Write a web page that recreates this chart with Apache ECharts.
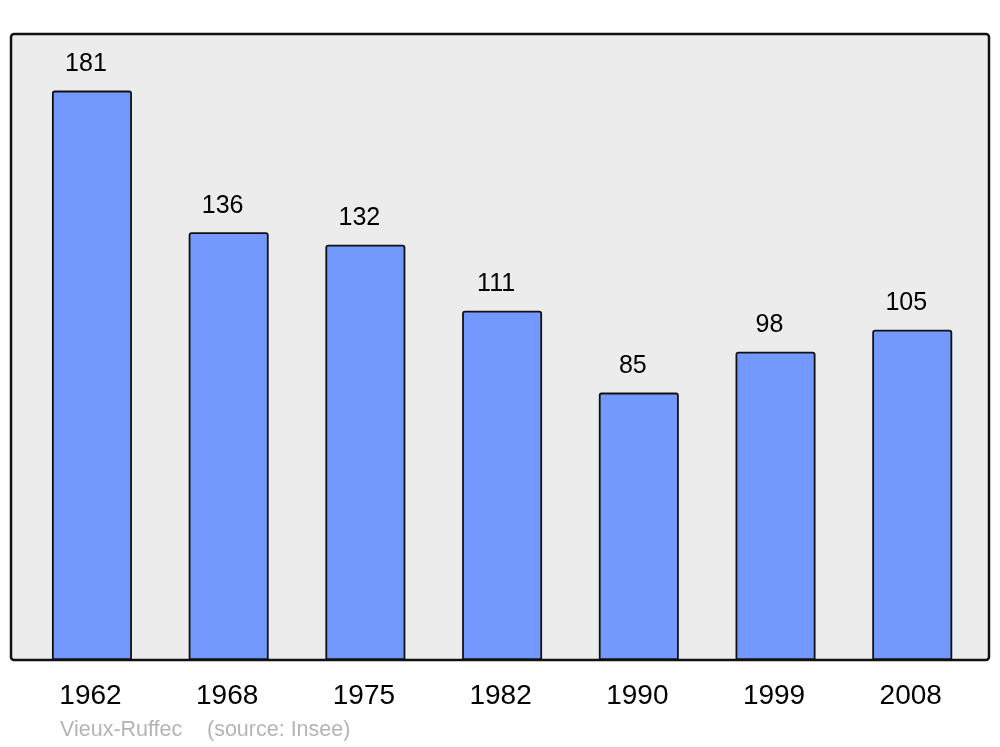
<!DOCTYPE html>
<html>
<head>
<meta charset="utf-8">
<script src="https://cdn.jsdelivr.net/npm/echarts@6/dist/echarts.min.js"></script>
<style>html,body{margin:0;padding:0;background:#fff;}#c{width:1000px;height:747px;}</style>
</head>
<body>
<div id="c"></div>
<script>
const years = ['1962','1968','1975','1982','1990','1999','2008'];
const population = [181,136,132,111,85,98,105];
const footerName = 'Vieux-Ruffec';
const footerSource = '(source: Insee)';

const FONT = '"Liberation Sans", Arial, sans-serif';
const chart = echarts.init(document.getElementById('c'), null, {renderer:'canvas'});
chart.setOption({
  animation: false,
  backgroundColor: '#ffffff',
  grid: { left: 23.6, top: 34, width: 957, height: 626, containLabel: false },
  graphic: [
    { type: 'rect', z: 0, silent: true,
      shape: { x: 11, y: 34, width: 978, height: 626, r: 3 },
      style: { fill: '#ececec', stroke: '#111', lineWidth: 2.5 } },
    { type: 'text', left: 60, top: 719, silent: true,
      style: { text: footerName, fill: '#b4b4b4', font: '21.5px ' + FONT } },
    { type: 'text', left: 207, top: 719, silent: true,
      style: { text: footerSource, fill: '#b4b4b4', font: '21.5px ' + FONT } }
  ],
  xAxis: {
    type: 'category', data: years,
    axisLine: { show: false }, axisTick: { show: false },
    axisLabel: { color: '#000', fontSize: 28, fontFamily: FONT, margin: 22,
                 padding: [0, 3, 0, 0] }
  },
  yAxis: {
    type: 'value', min: 0, max: 199,
    show: false, splitLine: { show: false }
  },
  series: [{
    type: 'bar', data: population, barWidth: 80, z: 5,
    itemStyle: { color: '#7399ff', borderColor: '#111', borderWidth: 1.8, borderRadius: [2,2,0,0] },
    label: { show: true, position: 'top', distance: 14, offset: [-6, 0], color: '#000',
             fontSize: 25, fontFamily: FONT }
  }]
});
</script>
</body>
</html>
